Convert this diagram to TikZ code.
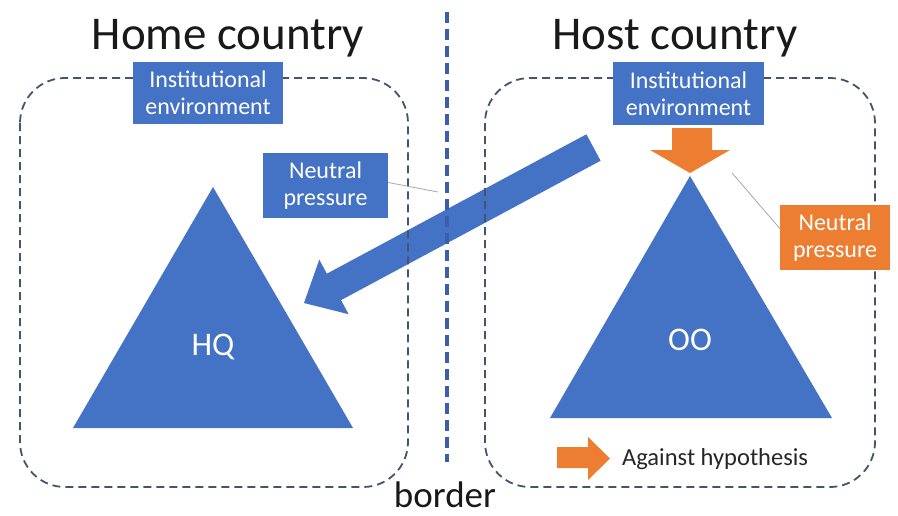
\documentclass[tikz,border=0pt]{standalone}
\usepackage{fontspec}
\setmainfont{Carlito}
\usetikzlibrary{calc}
\definecolor{oblue}{HTML}{4472C4}
\definecolor{oorange}{HTML}{ED7D31}
\definecolor{dashc}{HTML}{44546A}
\definecolor{borderc}{HTML}{3A5FA8}
\begin{document}
\begin{tikzpicture}[x=1pt,y=-1pt,
  region/.style={draw=dashc, line width=1.8pt, dash pattern=on 8pt off 5pt, rounded corners=45pt},
  labelbox/.style={fill=#1, text=white, align=center, inner sep=0pt, font=\fontsize{24}{27}\selectfont},
  titletext/.style={font=\fontsize{47}{50}\selectfont, text=black!90, anchor=base, inner sep=0pt},
  leader/.style={draw=gray!70, line width=0.8pt},
  tritext/.style={text=white, font=\fontsize{33}{36}\selectfont, inner sep=0pt}]
\useasboundingbox (0,0) rectangle (898,515);

% titles
\node[titletext] (home) at (228,49) {Home country};
\node[titletext] (host) at (675,49) {Host country};
\node[titletext, font=\fontsize{37}{40}\selectfont] (border) at (445,507) {border};

% triangles
\coordinate (hqA) at (213,187); \coordinate (hqB) at (353,428); \coordinate (hqC) at (73,428);
\fill[oblue] (hqA) -- (hqB) -- (hqC) -- cycle;
\node[tritext] (hq) at (213,347) {HQ};
\coordinate (ooA) at (690,176); \coordinate (ooB) at (832,418); \coordinate (ooC) at (550,418);
\fill[oblue] (ooA) -- (ooB) -- (ooC) -- cycle;
\node[tritext] (oo) at (690,340) {OO};

% big blue arrow
\coordinate (tip) at (304,303);
\coordinate (tail) at (593.5,147.5);
\coordinate (hb) at ($(tip)!34pt!(tail)$);
\fill[oblue] (tip) -- ($(hb)!31pt!90:(tail)$) -- ($(hb)!15pt!90:(tail)$)
  -- ($(tail)!15pt!-90:(hb)$) -- ($(tail)!15pt!90:(hb)$)
  -- ($(hb)!15pt!-90:(tail)$) -- ($(hb)!31pt!-90:(tail)$) -- cycle;

% dashed regions and border
\draw[region] (20,78) rectangle (408,487);
\draw[region] (485,78) rectangle (875,487);
\coordinate (b1) at (447,12); \coordinate (b2) at (447,462);
\draw[borderc, line width=3.5pt, dash pattern=on 11pt off 6pt] (b1) -- (b2);

% orange down arrow
\fill[oorange] (672,128) -- (712,128) -- (712,150) -- (730,150) -- (690,173) -- (650,150) -- (672,150) -- cycle;

% label boxes
\node[labelbox=oblue, minimum width=150pt, minimum height=62pt] (hinst) at (208,93) {Institutional\\environment};
\node[labelbox=oblue, minimum width=151pt, minimum height=63pt] (oinst) at (688.5,93.5) {Institutional\\environment};
\node[labelbox=oblue, minimum width=125pt, minimum height=65pt] (hneut) at (325.5,185.5) {Neutral\\pressure};
\node[labelbox=oorange, minimum width=110pt, minimum height=65pt] (oneut) at (835,237.5) {Neutral\\pressure};

% leader lines
\coordinate (lh) at (438,192);
\draw[leader] ([yshift=3pt]hneut.east) -- (lh);
\coordinate (lo) at (732,173);
\draw[leader] (lo) -- ([yshift=9pt]oneut.west);

% legend
\fill[oorange] (557,447) -- (588,447) -- (588,437) -- (610,458.5) -- (588,480) -- (588,468) -- (557,468) -- cycle;
\node[anchor=base west, inner sep=0pt, text=black!85, font=\fontsize{24.5}{27}\selectfont] (legend) at (622,465) {Against hypothesis};
\end{tikzpicture}
\end{document}
